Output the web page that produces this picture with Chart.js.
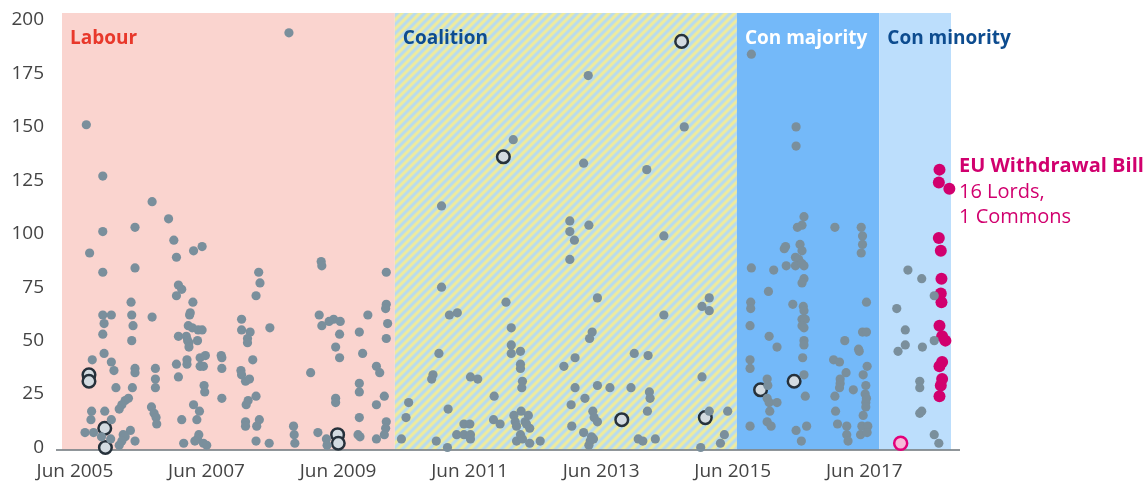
<!DOCTYPE html>
<html>
<head>
<meta charset="utf-8">
<script src="https://cdn.jsdelivr.net/npm/chart.js@4.4.1/dist/chart.umd.min.js"></script>
<style>
  html, body { margin: 0; padding: 0; background: #fff; }
  canvas { display: block; }
</style>
</head>
<body>
<canvas id="defeatsChart" width="1146" height="487"></canvas>
<script>
// Government periods (decimal years) shown as background bands
const periods = ["Labour", "Coalition", "Con majority", "Con minority"];
const periodStarts = [2005.22, 2010.28, 2015.48, 2017.645];
const periodEnd = 2018.735;

// x-axis tick labels: June of each of these years
const tickYears = [2005, 2007, 2009, 2011, 2013, 2015, 2017];

// Lords defeats [year, size] by period
const labourDefeats = [
  [2005.59,151],[2005.84,127],[2006.59,115],[2006.84,107],[2005.84,101],[2006.33,103],[2008.67,194],
  [2005.64,91],[2006.92,97],[2006.96,89],[2007.22,92],[2007.35,94],[2005.84,82],[2006.33,84],[2008.21,82],
  [2008.23,77],[2008.17,71],[2006.99,76],[2007.04,74],[2006.96,71],[2007.21,68],[2006.27,68],[2007.17,63],
  [2007.16,62],[2005.84,62],[2005.97,62],[2005.86,58],[2006.28,62],[2006.30,57],[2006.59,61],[2007.95,60],
  [2008.38,56],[2005.84,53],[2006.28,50],[2007.14,57],[2007.20,56],[2007.29,55],[2007.35,55],[2006.99,52],
  [2007.11,52],[2007.13,50],[2007.15,49],[2007.15,47],[2007.28,50],[2007.95,55],[2008.08,54],[2008.04,51],
  [2008.04,49],[2005.86,44],[2005.68,41],[2005.97,40],[2006.01,36],[2006.33,37],[2006.33,35],[2006.64,37],
  [2006.64,32],[2006.64,28],[2006.96,39],[2007.12,41],[2007.12,39],[2007.32,42],[2007.40,43],[2007.32,38],
  [2007.37,38],[2007.64,43],[2007.65,42],[2007.65,37],[2008.12,41],[2007.94,36],[2007.95,34],[2008.01,31],
  [2008.07,32],[2006.99,33],[2007.38,29],[2007.39,26],[2006.04,28],[2006.29,28],[2007.65,23],[2006.23,23],
  [2006.18,22],[2006.13,20],[2006.09,18],[2006.58,19],[2006.62,16],[2006.65,14],[2006.66,11],[2007.22,20],
  [2007.31,17],[2008.05,22],[2008.02,20],[2008.17,24],[2005.67,17],[2005.66,13],[2005.87,17],[2005.97,13],
  [2007.04,13],[2007.27,13],[2008.01,12],[2008.01,10],[2008.18,10],[2008.22,13],[2005.57,7],[2005.70,7],
  [2005.82,5],[2005.96,4],[2006.26,8],[2006.15,6],[2006.18,5],[2006.13,3],[2006.09,1],[2006.33,3],
  [2007.07,2],[2007.30,6],[2007.28,4],[2007.24,3],[2007.37,2],[2007.42,1],[2008.17,3],[2008.37,2],
  [2009.16,87],[2009.17,85],[2010.15,82],[2010.15,67],[2010.14,65],[2009.13,62],[2009.87,62],[2009.35,60],
  [2009.28,59],[2009.17,57],[2009.45,59],[2010.17,58],[2009.44,53],[2009.74,54],[2010.15,51],[2009.38,47],
  [2009.79,44],[2009.44,42],[2010.00,38],[2010.05,35],[2009.00,35],[2009.74,30],[2009.74,26],[2009.38,23],
  [2009.38,21],[2010.12,24],[2010.00,20],[2009.74,14],[2010.15,12],[2010.14,9],[2010.12,6],[2008.74,10],
  [2008.75,6],[2008.76,2],[2009.11,7],[2009.24,4],[2009.25,1],[2009.72,6],[2009.75,5],[2010.00,4]
];
const coalitionDefeats = [
  [2010.99,113],[2010.99,75],[2011.97,68],[2011.11,62],[2011.23,63],[2010.95,44],[2010.86,34],[2010.84,32],
  [2011.43,33],[2011.54,32],[2011.79,24],[2010.49,21],[2011.09,18],[2010.45,14],[2011.33,11],[2011.42,11],
  [2011.78,13],[2011.88,11],[2010.38,4],[2010.91,3],[2011.08,0],[2011.22,6],[2011.33,6],[2011.43,6],
  [2011.43,4],[2012.08,144],[2013.22,174],[2014.68,150],[2013.15,133],[2014.11,130],[2012.94,106],[2013.23,104],
  [2012.94,101],[2014.37,99],[2013.01,97],[2012.94,88],[2013.36,70],[2015.06,70],[2014.95,66],[2015.06,64],
  [2014.37,62],[2012.05,56],[2013.28,54],[2013.24,51],[2012.05,48],[2012.05,44],[2012.19,45],[2013.92,44],
  [2014.13,43],[2013.02,42],[2012.85,38],[2012.19,39],[2012.19,37],[2014.95,33],[2012.22,31],[2012.21,28],
  [2013.36,29],[2013.55,28],[2013.87,28],[2013.02,28],[2014.15,26],[2014.16,23],[2013.17,23],[2012.96,20],
  [2014.12,17],[2013.29,17],[2013.31,14],[2013.36,12],[2015.34,17],[2015.06,17],[2012.20,17],[2012.09,15],
  [2012.31,15],[2012.11,12],[2012.13,10],[2012.26,12],[2012.33,9],[2012.28,11],[2012.97,10],[2013.15,7],
  [2013.27,5],[2013.25,3],[2013.23,1],[2013.30,4],[2012.13,3],[2012.19,6],[2012.22,4],[2012.33,2],
  [2012.49,3],[2013.98,4],[2014.05,3],[2014.24,4],[2014.93,0],[2015.23,2],[2015.29,6]
];
const conMajorityDefeats = [
  [2015.70,184],[2016.38,150],[2016.38,141],[2016.50,108],[2016.47,104],[2016.40,103],[2016.97,103],[2017.37,103],
  [2017.39,99],[2017.39,95],[2017.37,91],[2016.22,94],[2016.20,93],[2016.44,95],[2016.47,92],[2016.37,89],
  [2016.42,88],[2016.37,85],[2016.47,86],[2016.50,85],[2016.23,85],[2015.70,84],[2016.04,83],[2016.50,79],
  [2016.47,77],[2015.96,73],[2016.33,67],[2015.69,68],[2015.69,65],[2016.49,66],[2016.50,64],[2017.45,68],
  [2016.47,60],[2016.52,60],[2016.47,57],[2016.50,56],[2015.68,57],[2015.97,52],[2016.09,47],[2016.50,50],
  [2016.50,48],[2016.48,42],[2017.12,50],[2017.39,54],[2017.45,54],[2017.33,46],[2017.34,45],[2015.68,41],
  [2015.68,37],[2016.95,41],[2017.04,40],[2017.46,38],[2017.40,34],[2017.14,35],[2016.50,34],[2015.94,32],
  [2015.95,29],[2017.05,32],[2017.05,30],[2017.04,28],[2017.25,27],[2017.44,29],[2017.43,25],[2017.45,23],
  [2017.44,21],[2017.44,19],[2016.97,24],[2015.94,23],[2015.97,21],[2016.09,21],[2016.52,24],[2015.98,17],
  [2016.98,17],[2017.40,15],[2015.94,12],[2016.00,10],[2015.68,10],[2016.54,10],[2016.38,8],[2016.46,3],
  [2017.01,11],[2017.15,10],[2017.15,6],[2017.17,3],[2017.38,10],[2017.47,10],[2017.36,6],[2017.46,7]
];
const conMinorityDefeats = [
  [2018.08,83],[2018.29,79],[2018.48,71],[2017.91,65],[2018.04,55],[2018.04,48],[2017.93,45],[2018.30,47],
  [2018.48,50],[2018.26,31],[2018.26,28],[2018.29,17],[2018.26,16],[2018.48,6],[2018.55,2]
];

// Commons defeats [year, size]
const commonsDefeats = [
  [2005.63,34],[2005.63,31],[2005.87,9],[2005.88,0],[2009.41,6],[2009.42,2],
  [2011.93,136],[2014.64,190],[2013.73,13],[2015.00,14],[2015.84,27],[2016.35,31]
];

// EU Withdrawal Bill defeats
const euBillLords = [
  [2018.56,130],[2018.55,124],[2018.71,121],[2018.55,98],[2018.58,92],[2018.59,79],[2018.58,72],[2018.59,68],
  [2018.56,57],[2018.60,52],[2018.65,50],[2018.60,40],[2018.56,38],[2018.60,32],[2018.58,29],[2018.56,24]
];
const euBillCommons = [[2017.97,2]];

const FONT = "'Open Sans', sans-serif";
const periodColors = ["#fad4cf", null, "#74b9f9", "#bcdefc"];
const periodLabelColors = ["#e8382b", "#0d4c8f", "#ffffff", "#0d4c8f"];

function toPoints(arr) {
  return arr.map(p => ({ x: p[0], y: p[1] }));
}

function stripePattern(ctx) {
  const c = document.createElement("canvas");
  c.width = 9; c.height = 9;
  const g = c.getContext("2d");
  const img = g.createImageData(9, 9);
  const yel = [242, 236, 152], blu = [181, 218, 243];
  for (let j = 0; j < 9; j++) {
    for (let i = 0; i < 9; i++) {
      const t = 0.5 + 0.5 * Math.cos(2 * Math.PI * (i + j) / 9);
      const k = (j * 9 + i) * 4;
      for (let n = 0; n < 3; n++) img.data[k + n] = Math.round(yel[n] * t + blu[n] * (1 - t));
      img.data[k + 3] = 255;
    }
  }
  g.putImageData(img, 0, 0);
  return ctx.createPattern(c, "repeat");
}

const periodsPlugin = {
  id: "periods",
  beforeDatasetsDraw(chart) {
    const { ctx, chartArea, scales: { x } } = chart;
    const top = chartArea.top - 7;
    const bottom = chartArea.bottom + 2;
    ctx.save();
    periodStarts.forEach((start, i) => {
      const end = i < periodStarts.length - 1 ? periodStarts[i + 1] : periodEnd;
      const x0 = x.getPixelForValue(start);
      const x1 = x.getPixelForValue(end);
      ctx.fillStyle = i === 1 ? stripePattern(ctx) : periodColors[i];
      ctx.fillRect(x0, top, x1 - x0, bottom - top);
    });
    periodStarts.forEach((start, i) => {
      const x0 = x.getPixelForValue(start);
      ctx.font = "bold 19px " + FONT;
      ctx.fillStyle = periodLabelColors[i];
      ctx.textBaseline = "middle";
      ctx.textAlign = "left";
      ctx.fillText(periods[i], x0 + 8, 38.5);
    });
    // x axis line
    ctx.strokeStyle = "#6b7378";
    ctx.lineWidth = 1.5;
    ctx.beginPath();
    ctx.moveTo(56, bottom + 0.5);
    ctx.lineTo(960, bottom + 0.5);
    ctx.stroke();
    ctx.restore();
  },
  afterDraw(chart) {
    const { ctx } = chart;
    ctx.save();
    ctx.fillStyle = "#d1006e";
    ctx.textAlign = "left";
    ctx.textBaseline = "middle";
    ctx.font = "bold 20px " + FONT;
    ctx.fillText("EU Withdrawal Bill", 959, 166);
    ctx.font = "20px " + FONT;
    ctx.fillText("16 Lords,", 959, 192);
    ctx.fillText("1 Commons", 959, 217);
    ctx.restore();
  }
};

const ctx = document.getElementById("defeatsChart").getContext("2d");
new Chart(ctx, {
  type: "scatter",
  data: {
    datasets: [
      {
        label: "Lords defeats",
        data: toPoints(labourDefeats.concat(coalitionDefeats, conMajorityDefeats, conMinorityDefeats)),
        pointRadius: 4.6,
        pointBackgroundColor: "#7a8f9c",
        pointBorderWidth: 0,
        clip: false
      },
      {
        label: "Commons defeats",
        data: toPoints(commonsDefeats),
        pointRadius: 6.3,
        pointBackgroundColor: "#d3dbe1",
        pointBorderColor: "#26313b",
        pointBorderWidth: 2.5,
        clip: false
      },
      {
        label: "EU Withdrawal Bill (Lords)",
        data: toPoints(euBillLords),
        pointRadius: 6,
        pointBackgroundColor: "#d1006e",
        pointBorderWidth: 0,
        clip: false
      },
      {
        label: "EU Withdrawal Bill (Commons)",
        data: toPoints(euBillCommons),
        pointRadius: 6.5,
        pointBackgroundColor: "#f8b9d9",
        pointBorderColor: "#e2007a",
        pointBorderWidth: 2.5,
        clip: false
      }
    ]
  },
  options: {
    responsive: false,
    animation: false,
    events: [],
    layout: { padding: { top: 20, right: 195, left: 0, bottom: 0 } },
    plugins: { legend: { display: false }, tooltip: { enabled: false } },
    scales: {
      x: {
        type: "linear",
        min: periodStarts[0],
        max: periodEnd,
        grid: { display: false, drawTicks: false },
        border: { display: false },
        afterBuildTicks: scale => {
          scale.ticks = tickYears.map(y => ({ value: y + 5 / 12 }));
        },
        afterFit: scale => {
          scale.height = 39.5;
          scale.paddingLeft = 0;
          scale.paddingRight = 0;
        },
        ticks: {
          autoSkip: false,
          maxRotation: 0,
          padding: 13,
          color: "#444",
          font: { family: FONT, size: 19 },
          callback: v => "Jun " + Math.floor(v)
        }
      },
      y: {
        min: 0,
        max: 200,
        grid: { display: false, drawTicks: false },
        border: { display: false },
        afterFit: scale => {
          scale.width = 62;
          scale.paddingTop = 0;
          scale.paddingBottom = 0;
        },
        ticks: {
          stepSize: 25,
          padding: 18,
          color: "#444",
          font: { family: FONT, size: 19 }
        }
      }
    }
  },
  plugins: [periodsPlugin]
});
</script>
</body>
</html>
